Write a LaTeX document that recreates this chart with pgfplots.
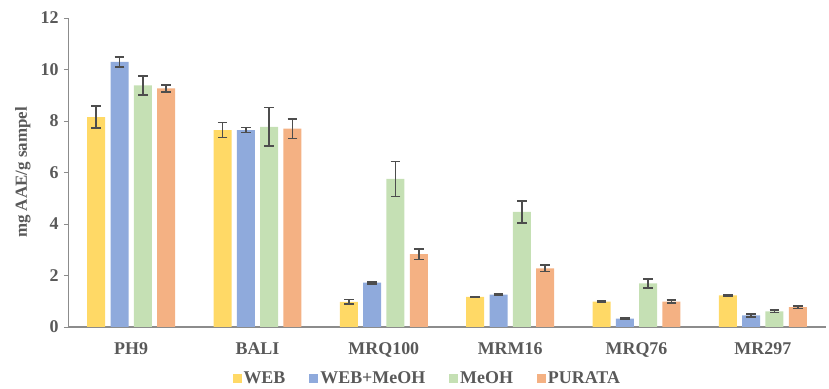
\documentclass[border=0pt]{standalone}
\usepackage{fontspec}
\setmainfont{Liberation Serif}
\usepackage{pgfplots}
\pgfplotsset{compat=1.18}
\definecolor{cWEB}{HTML}{FFD966}
\definecolor{cWM}{HTML}{8FAADC}
\definecolor{cMeOH}{HTML}{C5E0B4}
\definecolor{cPUR}{HTML}{F4B183}
\definecolor{axgray}{HTML}{8C8C8C}
\definecolor{txtgray}{HTML}{595959}
\definecolor{errgray}{HTML}{4D4D4D}

\pgfplotstableread{
x y e
0 8.15 0.42
1 7.65 0.29
2 0.98 0.09
3 1.17 0.02
4 0.99 0.03
5 1.23 0.03
}\tWEB
\pgfplotstableread{
x y e
0 10.30 0.19
1 7.65 0.10
2 1.72 0.04
3 1.26 0.03
4 0.33 0.03
5 0.45 0.05
}\tWM
\pgfplotstableread{
x y e
0 9.38 0.38
1 7.77 0.75
2 5.75 0.68
3 4.47 0.43
4 1.69 0.17
5 0.61 0.05
}\tMeOH
\pgfplotstableread{
x y e
0 9.27 0.14
1 7.70 0.38
2 2.83 0.21
3 2.28 0.13
4 0.99 0.07
5 0.77 0.05
}\tPUR

\begin{document}
\begin{tikzpicture}[font=\bfseries\fontsize{18}{21}\selectfont]
\begin{axis}[
  name=ax,
  scale only axis, width=758bp, height=309bp,
  ybar=5.3bp, bar width=18bp,
  xmin=-0.5, xmax=5.5, ymin=0, ymax=12,
  xtick={0,...,5},
  xticklabels={PH9,BALI,MRQ100,MRM16,MRQ76,MR297},
  xtick style={draw=none},
  ytick={0,2,...,12},
  axis x line*=bottom, axis y line*=left,
  x axis line style={draw=axgray, line width=1.8bp, -},
  y axis line style={draw=axgray, line width=0.9bp, -},
  ytick style={draw=axgray, line width=0.9bp},
  tick align=outside, major tick length=4bp,
  ticklabel style={text=txtgray},
  yticklabel style={xshift=-2bp},
  /pgf/number format/assume math mode=true,
  xticklabel style={yshift=-8bp},
  ylabel={mg AAE/g sampel},
  ylabel style={text=txtgray, font=\bfseries\fontsize{17}{19}\selectfont, yshift=3bp},
  legend style={at={(0.474,-0.13)}, anchor=north, draw=none, fill=none,
    legend columns=-1, text=txtgray,
    /tikz/every even column/.append style={column sep=22bp}},
  legend image code/.code={\fill[#1] (0bp,-4.5bp) rectangle (9bp,4.5bp);},
  error bars/y dir=both, error bars/y explicit,
  error bars/error bar style={line width=1.7bp, draw=errgray},
  error bars/error mark options={rotate=90, mark size=4.8bp, line width=1.7bp, draw=errgray},
]
\addplot[fill=cWEB, draw=none] table[x=x, y=y, y error=e]{\tWEB};
\addplot[fill=cWM, draw=none] table[x=x, y=y, y error=e]{\tWM};
\addplot[fill=cMeOH, draw=none] table[x=x, y=y, y error=e]{\tMeOH};
\addplot[fill=cPUR, draw=none] table[x=x, y=y, y error=e]{\tPUR};
\legend{WEB, WEB+MeOH, MeOH, PURATA}
\end{axis}
\path ([xshift=-68bp,yshift=-62bp]ax.south west) rectangle ([xshift=3bp,yshift=18bp]ax.north east);
\end{tikzpicture}
\end{document}
